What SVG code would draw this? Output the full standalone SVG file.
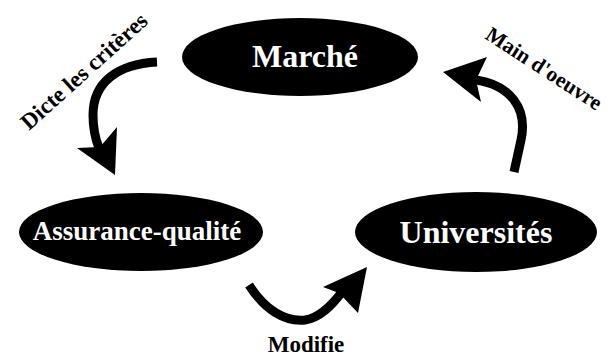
<svg xmlns="http://www.w3.org/2000/svg" width="607" height="357" viewBox="0 0 607 357">
<style>
.node{fill:#000}
.nt{fill:#fff;font-weight:bold;text-anchor:middle}
.lbl{fill:#000;font-weight:bold}
.conn{fill:none;stroke:#000;stroke-width:9}
.head{fill:#000}
</style>
<rect width="607" height="357" fill="#fff"/>
<g font-family="Liberation Serif, DejaVu Serif, serif">
<g id="marche">
<ellipse class="node" cx="300" cy="57" rx="118" ry="39"/>
<text class="nt" x="305" y="67" font-size="32">Marché</text>
</g>
<g id="assurance">
<ellipse class="node" cx="141" cy="232" rx="122" ry="39"/>
<text class="nt" x="137" y="240" font-size="27">Assurance-qualité</text>
</g>
<g id="universites">
<ellipse class="node" cx="476" cy="232" rx="121" ry="40"/>
<text class="nt" x="476" y="243" font-size="32">Universités</text>
</g>
<g id="connectors">
<path class="conn" d="M157,62 C118,64 93,82 93,115 C93,128 95,138 99,148"/>
<polygon class="head" points="115,175 77,148 100,147 117,127"/>
<path class="conn" d="M514,172 L521,140 C528,108 510,85 476,80"/>
<polygon class="head" points="443,72 487,57 476,80 481,102"/>
<path class="conn" d="M249,285 C265,310 285,322 305,320 C320,318 332,305 342,292"/>
<polygon class="head" points="367,267 323,287 339,293 358,313"/>
<text class="lbl" font-size="23" transform="translate(29,131) rotate(-42)">Dicte les critères</text>
<text class="lbl" font-size="21.5" transform="translate(484,38) rotate(33)">Main d'oeuvre</text>
<text class="lbl" x="306" y="352" font-size="23" text-anchor="middle">Modifie</text>
</g>
</g>
</svg>
